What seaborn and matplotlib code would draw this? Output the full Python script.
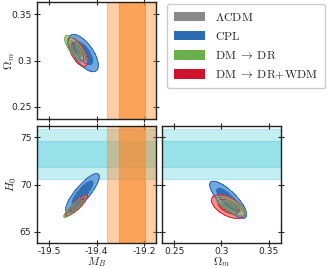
import numpy as np
import matplotlib
matplotlib.use("Agg")
import matplotlib.pyplot as plt
import seaborn as sns
from matplotlib.patches import Patch

sns.set_style("ticks")
plt.rcParams["font.family"] = ["DejaVu Sans"]
plt.rcParams["mathtext.fontset"] = "cm"
plt.rcParams["axes.unicode_minus"] = False

# ---------------- data ----------------
models = ["LCDM", "CPL", "DMDR", "DMDRWDM"]
labels = [r"$\Lambda\mathrm{CDM}$", r"$\mathrm{CPL}$",
          r"$\mathrm{DM}\;\rightarrow\;\mathrm{DR}$",
          r"$\mathrm{DM}\;\rightarrow\;\mathrm{DR{+}WDM}$"]
legend_colors = ["#8a8a8a", "#2b6cb5", "#6ab04c", "#d0112b"]
dark_colors = ["#7a7a7a", "#2466b0", "#6ab04c", "#d21f2f"]
light_colors = ["#a8a8a8", "#6aa3e0", "#a6d48a", "#ec8a8a"]
draw_order = [1, 3, 2, 0]

# (mean_x, mean_y, sigma_x, sigma_y, rho) per model, per panel
mb_om = [(-19.4417, 0.3122, 0.0078, 0.0052, -0.74),
         (-19.4275, 0.3080, 0.0128, 0.0082, -0.66),
         (-19.4453, 0.3131, 0.0088, 0.0056, -0.76),
         (-19.4396, 0.3091, 0.0083, 0.0064, -0.66)]
mb_h0 = [(-19.4450, 67.65, 0.0086, 0.42, 0.92),
         (-19.4295, 69.10, 0.0144, 0.84, 0.84),
         (-19.4460, 67.60, 0.0093, 0.44, 0.91),
         (-19.4410, 67.80, 0.0090, 0.45, 0.88)]
om_h0 = [(0.3097, 67.65, 0.0062, 0.42, -0.80),
         (0.3071, 68.39, 0.0080, 0.80, -0.80),
         (0.3110, 67.70, 0.0062, 0.42, -0.78),
         (0.3070, 67.65, 0.0072, 0.51, -0.55)]

mb_band_1s = (-19.352, -19.299)
mb_band_2s = (-19.378, -19.273)
h0_band_1s = (71.89, 74.57)
h0_band_2s = (70.54, 75.93)

mb_lim = (-19.525, -19.275)
om_lim = (0.237, 0.363)
h0_lim = (63.8, 76.2)

mb_ticks = [-19.5, -19.4, -19.3]
mb_ticklabels = ["-19.5", "-19.4", "-19.2"]
om_ticks = [0.25, 0.3, 0.35]
om_ticklabels = ["0.25", "0.3", "0.35"]
h0_ticks = [65, 70, 75]
h0_ticklabels = ["65", "70", "75"]

# ---------------- figure ----------------
W, H = 333, 268
fig = plt.figure(figsize=(W / 100, H / 100), dpi=100)
ax_tl = fig.add_axes([37 / W, 1 - 119 / H, 119 / W, 117 / H])
ax_bl = fig.add_axes([37 / W, 1 - 243 / H, 119 / W, 117 / H])
ax_br = fig.add_axes([162 / W, 1 - 243 / H, 119 / W, 117 / H])

ORANGE = "#fb8a2a"
CYAN = "#17becf"


def vband(ax):
    ax.axvspan(*mb_band_2s, color=ORANGE, alpha=0.42, lw=0.8, zorder=1)
    ax.axvspan(*mb_band_1s, color=ORANGE, alpha=0.62, lw=0.8, zorder=1)


def hband(ax):
    ax.axhspan(*h0_band_2s, color=CYAN, alpha=0.25, lw=0.8, zorder=0.5)
    ax.axhspan(*h0_band_1s, color=CYAN, alpha=0.25, lw=0.8, zorder=0.5)


def contours(ax, params, xlim, ylim):
    x = np.linspace(xlim[0], xlim[1], 500)
    y = np.linspace(ylim[0], ylim[1], 500)
    X, Y = np.meshgrid(x, y)
    for i in draw_order:
        mx, my, sx, sy, rho = params[i]
        dx = (X - mx) / sx
        dy = (Y - my) / sy
        q = (dx ** 2 - 2 * rho * dx * dy + dy ** 2) / (1 - rho ** 2)
        a = 0.82 if i == 0 else 0.95
        ax.contourf(X, Y, q, levels=[0, 2.30, 5.99],
                    colors=[dark_colors[i], light_colors[i]], alpha=a, zorder=3)
        ax.contour(X, Y, q, levels=[2.30, 5.99], colors=[dark_colors[i]],
                   linewidths=0.7, zorder=3.5)


vband(ax_tl)
contours(ax_tl, mb_om, mb_lim, om_lim)

hband(ax_bl)
vband(ax_bl)
contours(ax_bl, mb_h0, mb_lim, h0_lim)

hband(ax_br)
contours(ax_br, om_h0, om_lim, h0_lim)

for ax in (ax_tl, ax_bl, ax_br):
    ax.tick_params(direction="inout", length=4, width=0.8, top=True, right=True,
                   labelsize=6.6, pad=2, colors="#222222")
    ax.tick_params(axis="x", pad=0.8)
    for s in ax.spines.values():
        s.set_linewidth(1.0)
        s.set_color("#222222")

ax_tl.set_xlim(mb_lim); ax_tl.set_ylim(om_lim)
ax_tl.set_xticks(mb_ticks); ax_tl.set_xticklabels([])
ax_tl.set_yticks(om_ticks); ax_tl.set_yticklabels(om_ticklabels)
ax_tl.set_ylabel(r"$\Omega_m$", fontsize=8.5)
ax_tl.yaxis.set_label_coords((10 - 37) / 119, 0.5)

ax_bl.set_xlim(mb_lim); ax_bl.set_ylim(h0_lim)
ax_bl.set_xticks(mb_ticks); ax_bl.set_xticklabels(mb_ticklabels)
ax_bl.set_yticks(h0_ticks); ax_bl.set_yticklabels(h0_ticklabels)
ax_bl.set_ylabel(r"$H_0$", fontsize=8.5)
ax_bl.yaxis.set_label_coords((12 - 37) / 119, 0.5)
ax_bl.set_xlabel(r"$M_B$", fontsize=8.2)
ax_bl.xaxis.set_label_coords(0.5, (243 - 262) / 117)

ax_br.set_xlim(om_lim); ax_br.set_ylim(h0_lim)
ax_br.set_xticks(om_ticks); ax_br.set_xticklabels(om_ticklabels)
ax_br.set_yticks(h0_ticks); ax_br.set_yticklabels([])
ax_br.set_xlabel(r"$\Omega_m$", fontsize=8.2)
ax_br.xaxis.set_label_coords(0.5, (243 - 262) / 117)

for ax in (ax_bl, ax_br):
    ax.xaxis.label.set_va("center")
for ax in (ax_tl, ax_bl):
    ax.yaxis.label.set_va("center")

handles = [Patch(facecolor=c, edgecolor="none") for c in legend_colors]
fig.legend(handles, labels, loc="upper left", bbox_to_anchor=(167 / W, 1 - 4 / H),
           fontsize=8.6, frameon=True, fancybox=True, edgecolor="#cccccc",
           framealpha=1, handlelength=2.6, handleheight=0.85, labelspacing=0.52,
           handletextpad=0.9, borderpad=0.55, borderaxespad=0)

fig.savefig("out.png", dpi=100)
